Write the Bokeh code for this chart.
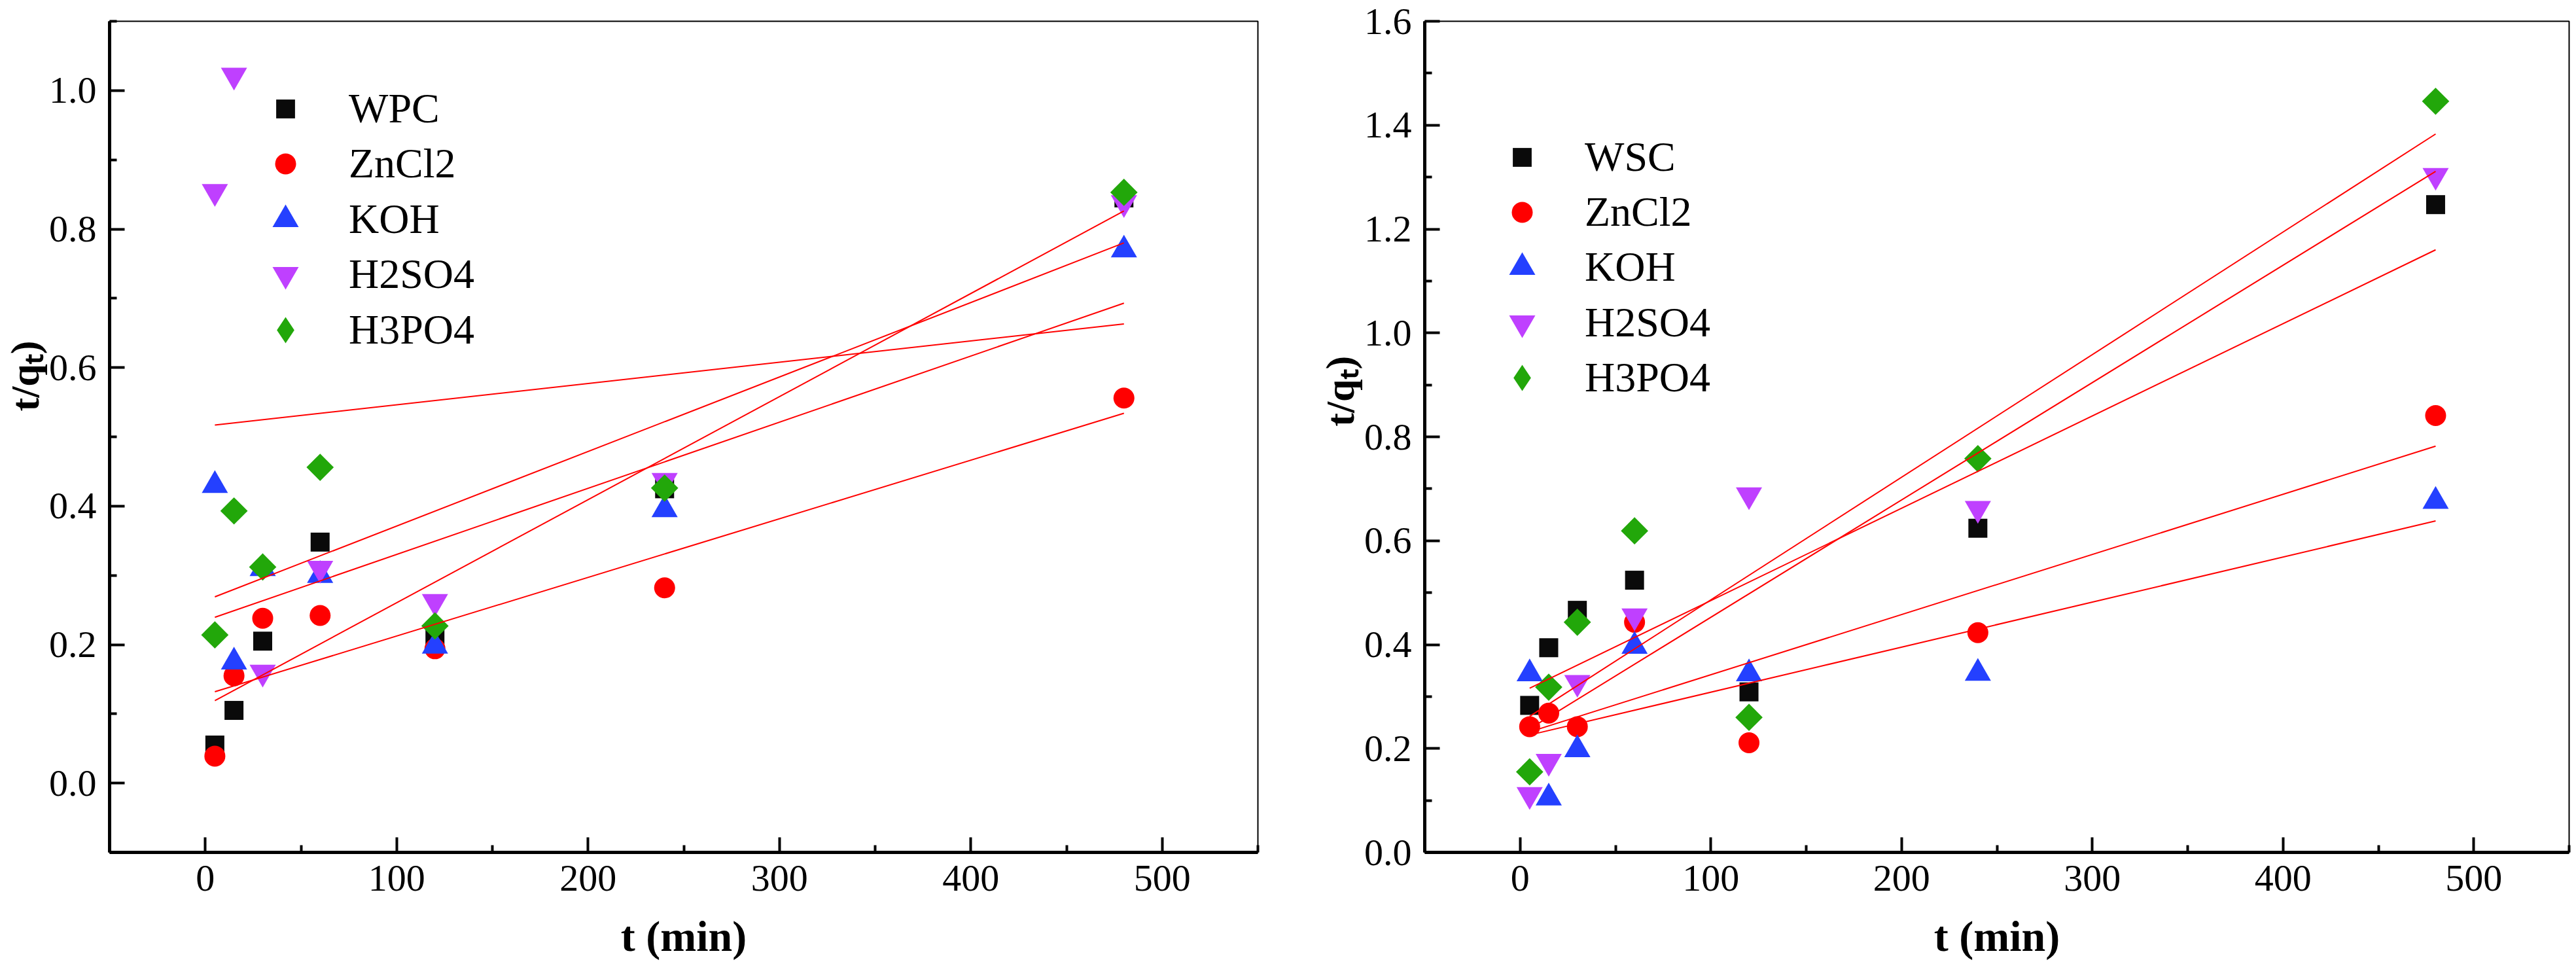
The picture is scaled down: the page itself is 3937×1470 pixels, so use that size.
import math
from bokeh.plotting import figure
from bokeh.models import FixedTicker, PrintfTickFormatter, Legend, LegendItem
from bokeh.layouts import row
from bokeh.embed import file_html
from bokeh.resources import INLINE

# ---------------- data ----------------
t = [5, 15, 30, 60, 120, 240, 480]
fit_t = [5, 480]

left_names = ["WPC", "ZnCl2", "KOH", "H2SO4", "H3PO4"]
left_wpc = [0.055, 0.105, 0.205, 0.348, 0.214, 0.425, 0.845]
left_zncl2 = [0.039, 0.155, 0.238, 0.242, 0.194, 0.282, 0.556]
left_koh = [0.430, 0.175, 0.310, 0.300, 0.198, 0.395, 0.770]
left_h2so4 = [0.854, 1.022, 0.160, 0.310, 0.262, 0.437, 0.838]
left_h3po4 = [0.214, 0.393, 0.312, 0.456, 0.227, 0.426, 0.853]
left_fit_wpc = [0.119, 0.826]
left_fit_zncl2 = [0.132, 0.534]
left_fit_koh = [0.2395, 0.693]
left_fit_h2so4 = [0.517, 0.663]
left_fit_h3po4 = [0.269, 0.780]

right_names = ["WSC", "ZnCl2", "KOH", "H2SO4", "H3PO4"]
right_wsc = [0.283, 0.394, 0.466, 0.524, 0.309, 0.624, 1.247]
right_zncl2 = [0.242, 0.268, 0.242, 0.443, 0.211, 0.423, 0.841]
right_koh = [0.344, 0.105, 0.198, 0.397, 0.344, 0.345, 0.676]
right_h2so4 = [0.111, 0.175, 0.327, 0.455, 0.688, 0.662, 1.303]
right_h3po4 = [0.155, 0.318, 0.443, 0.619, 0.260, 0.758, 1.446]
right_fit_wsc = [0.316, 1.160]
right_fit_zncl2 = [0.232, 0.782]
right_fit_koh = [0.226, 0.638]
right_fit_h2so4 = [0.238, 1.311]
right_fit_h3po4 = [0.262, 1.383]

x_major = [0, 100, 200, 300, 400, 500]
x_minor = [-50, 50, 150, 250, 350, 450, 550]
left_y_major = [0.0, 0.2, 0.4, 0.6, 0.8, 1.0]
left_y_minor = [-0.1, 0.1, 0.3, 0.5, 0.7, 0.9, 1.1]
right_y_major = [0.0, 0.2, 0.4, 0.6, 0.8, 1.0, 1.2, 1.4, 1.6]
right_y_minor = [0.1, 0.3, 0.5, 0.7, 0.9, 1.1, 1.3, 1.5]

# ---------------- styles ----------------
FONT = "Liberation Serif"
COLORS = ["#0a0a0a", "#ff0000", "#2440ff", "#bf40ff", "#22a70a"]
MARKERS = ["square", "circle", "triangle", "inverted_triangle", "square"]
LEG_MARKERS = ["square", "circle", "triangle", "inverted_triangle", "diamond"]
GLYPH_W = [72, 80, 100, 100, 100]          # legend glyph box -> marker size = 0.4*w
SIZES = [29, 32, 40, 40, 29.5]
ANGLES = [0, 0, 0, 0, math.pi / 4]
FRAME_H = 1270
FRAME_BOTTOM = 1310   # page y of the frame bottom
NBSP = "\u00a0"


def make_panel(names, series, fits, y_range, y_major, y_minor, ylab_pad,
               leg_cx, leg_tx, leg_rows, min_left, min_right, frame_w):
    p = figure(frame_width=frame_w, frame_height=FRAME_H,
               x_range=(-50, 550), y_range=y_range,
               output_backend="svg", toolbar_location=None, title=None,
               min_border_left=min_left, min_border_right=min_right,
               min_border_top=32, min_border_bottom=0,
               background_fill_color="white", border_fill_color="white")
    p.xgrid.visible = False
    p.ygrid.visible = False
    p.outline_line_color = "black"
    p.outline_line_width = 2

    rends = []
    for i, ys in enumerate(series):
        r = p.scatter(t, ys, marker=MARKERS[i], size=SIZES[i], angle=ANGLES[i],
                      fill_color=COLORS[i], line_color=None)
        rends.append(r)
    for f in fits:
        p.line(fit_t, f, line_color="#ff0000", line_width=2)

    # legend-only glyphs (NaN position: nothing is drawn in the plot area)
    leg_rends = []
    for i in range(len(names)):
        if LEG_MARKERS[i] != MARKERS[i]:
            lr = p.scatter([float("nan")], [float("nan")], marker=LEG_MARKERS[i],
                           fill_color=COLORS[i], line_color=None)
            leg_rends.append(lr)
        else:
            leg_rends.append(rends[i])

    xa = p.xaxis[0]
    ya = p.yaxis[0]
    xa.ticker = FixedTicker(ticks=x_major, minor_ticks=x_minor)
    xa.formatter = PrintfTickFormatter(format="%d")
    ya.ticker = FixedTicker(ticks=y_major, minor_ticks=y_minor)
    ya.formatter = PrintfTickFormatter(format="%.1f")
    for ax in (xa, ya):
        ax.axis_line_width = 5
        ax.axis_line_color = "black"
        ax.major_tick_in = 23
        ax.major_tick_out = 0
        ax.major_tick_line_width = 4
        ax.minor_tick_in = 11
        ax.minor_tick_out = 0
        ax.minor_tick_line_width = 4
        ax.major_label_text_font = FONT
        ax.major_label_text_font_size = "58px"
        ax.major_label_text_color = "black"
        ax.axis_label_text_font = FONT
        ax.axis_label_text_font_style = "bold"
        ax.axis_label_text_color = "black"
        ax.axis_label_standoff = 0
    xa.axis_label_text_font_size = "66px"
    ya.axis_label_text_font_size = "62px"
    xa.major_label_standoff = 20
    ya.major_label_standoff = 20
    xa.axis_label_standoff = 30
    xa.axis_label = "t (min)"
    ya.axis_label = NBSP * ylab_pad + "t/q\u209c)"

    for i, name in enumerate(names):
        gw = GLYPH_W[i]
        leg = Legend(items=[LegendItem(label=name, renderers=[leg_rends[i]])],
                     location=(leg_cx - gw / 2, FRAME_BOTTOM - leg_rows[i] - 50),
                     glyph_width=gw, glyph_height=100, label_height=100,
                     label_standoff=int(round(leg_tx - leg_cx - gw / 2)),
                     padding=0, margin=0, spacing=0,
                     border_line_alpha=0, background_fill_alpha=0,
                     label_text_font=FONT, label_text_font_size="64px",
                     label_text_color="black")
        p.add_layout(leg)
    return p


left = make_panel(left_names,
                  [left_wpc, left_zncl2, left_koh, left_h2so4, left_h3po4],
                  [left_fit_wpc, left_fit_zncl2, left_fit_koh, left_fit_h2so4, left_fit_h3po4],
                  (-0.1, 1.1), left_y_major, left_y_minor, 12,
                  269, 366, [173.5, 258, 342.5, 427, 511.5], 162, 88, 1755)
right = make_panel(right_names,
                   [right_wsc, right_zncl2, right_koh, right_h2so4, right_h3po4],
                   [right_fit_wsc, right_fit_zncl2, right_fit_koh, right_fit_h2so4, right_fit_h3po4],
                   (0.0, 1.6), right_y_major, right_y_minor, 9,
                   149, 245, [248, 332, 416, 501, 585], 163, 4, 1749)

layout = row(left, right)
open("out.html", "w").write(file_html(layout, INLINE))
